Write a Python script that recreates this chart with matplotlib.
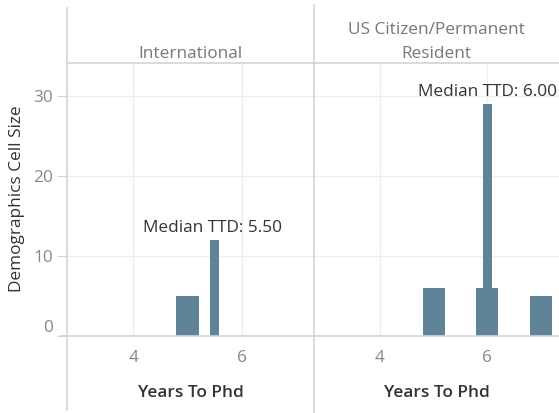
import numpy as np
import matplotlib
matplotlib.use("Agg")
import matplotlib.pyplot as plt
import matplotlib.transforms as mtransforms
from matplotlib.lines import Line2D

# ------------------------------------------------------------------
# Data
groups = ["International", "US Citizen/Permanent\nResident"]
hist_years = [[5], [5, 6, 7]]
hist_counts = [[5], [6, 6, 5]]
median_ttd = [5.5, 6.0]
median_counts = [12, 29]
x_ticks = [4, 6]
y_ticks = [0, 10, 20, 30]

bar_color = "#5e8397"
line_color = "#d4d4d4"
grid_color = "#efefef"
fs = 12.4

plt.rcParams["font.family"] = ["Open Sans", "DejaVu Sans"]

W, H = 559, 413
fig = plt.figure(figsize=(W / 100, H / 100), dpi=100)


def fx(px):
    return px / W


def fy(py):
    return 1 - py / H


# pixel layout of the two panes
top, base = 63, 336
panes = [(67, 314), (314, 559)]

for i, (x0, x1) in enumerate(panes):
    ax = fig.add_axes([fx(x0), fy(base), fx(x1) - fx(x0), fy(top) - fy(base)])
    ax.set_xlim(2.78, 7.33)
    ax.set_ylim(0, 34.1)
    for s in ax.spines.values():
        s.set_visible(False)
    ax.set_xticks(x_ticks)
    ax.set_yticks(y_ticks)
    ax.grid(True, color=grid_color, linewidth=1)
    ax.set_axisbelow(True)
    ax.tick_params(length=0, labelsize=fs, colors="#888888", pad=10)
    if i == 0:
        ax.tick_params(axis="y", length=7, color=line_color, pad=3)
        # Tableau lifts the zero label above the baseline
        lab0 = ax.get_yticklabels()[0]
        lab0.set_transform(lab0.get_transform() +
                           mtransforms.ScaledTranslation(0, 10 / 100, fig.dpi_scale_trans))
    else:
        ax.set_yticklabels([])

    ax.bar(hist_years[i], hist_counts[i], width=0.41, color=bar_color, zorder=2)
    ax.bar(median_ttd[i], median_counts[i], width=0.17, color=bar_color, zorder=3)
    ax.text(median_ttd[i] - 0.04 * (i == 0), median_counts[i] + 1.0,
            "Median TTD: %.2f" % median_ttd[i],
            ha="center", va="baseline", fontsize=fs, color="#333333", zorder=4)

    # header
    fig.text(fx((x0 + x1) / 2), fy(58), groups[i], ha="center", va="baseline",
             fontsize=fs, color="#777777", linespacing=1.65)
    # axis title
    fig.text(fx((x0 + x1) / 2), fy(393), "Years To Phd", ha="center", va="center",
             fontsize=fs, color="#333333", fontweight="semibold")

# frame lines
fig.add_artist(Line2D([fx(67), fx(67)], [fy(8), fy(410)], color=line_color, lw=1.2))
fig.add_artist(Line2D([fx(314), fx(314)], [fy(5), fy(413)], color=line_color, lw=1.2))
fig.add_artist(Line2D([fx(67), fx(559)], [fy(top), fy(top)], color=line_color, lw=1.2))
fig.add_artist(Line2D([fx(60), fx(559)], [fy(base), fy(base)], color=line_color, lw=1.2))

fig.text(fx(17), fy(199), "Demographics Cell Size", rotation=90, ha="center",
         va="center", fontsize=fs, color="#333333")

fig.savefig("out.png", dpi=100)
